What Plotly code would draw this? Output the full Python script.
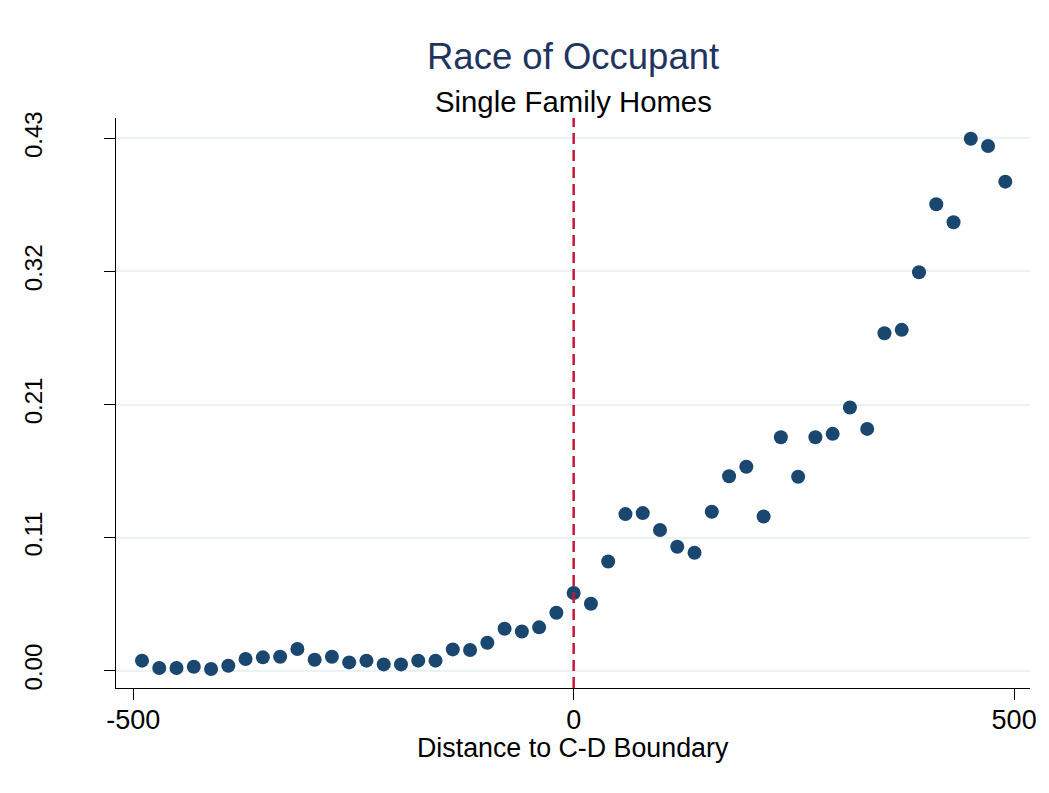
import plotly.graph_objects as go

# binned distance to the C-D boundary and share of black occupants
distance = [-490, -470.4, -450.8, -431.2, -411.6, -392, -372.4, -352.8, -333.2, -313.6,
            -294, -274.4, -254.8, -235.2, -215.6, -196, -176.4, -156.8, -137.2, -117.6,
            -98, -78.4, -58.8, -39.2, -19.6, 0, 19.6, 39.2, 58.8, 78.4,
            98, 117.6, 137.2, 156.8, 176.4, 196, 215.6, 235.2, 254.8, 274.4,
            294, 313.6, 333.2, 352.8, 372.4, 392, 411.6, 431.2, 450.8, 470.4, 490]
share = [0.0081, 0.0022, 0.0022, 0.0032, 0.0014, 0.0040, 0.0094, 0.0108, 0.0113, 0.0175,
         0.0089, 0.0113, 0.0067, 0.0081, 0.0051, 0.0051, 0.0081, 0.0081, 0.0172, 0.0167,
         0.0226, 0.0339, 0.0317, 0.0350, 0.0468, 0.0627, 0.0541, 0.0882, 0.1265, 0.1273,
         0.1136, 0.1001, 0.0953, 0.1284, 0.1571, 0.1647, 0.1246, 0.1886, 0.1566, 0.1886,
         0.1913, 0.2126, 0.1953, 0.2726, 0.2753, 0.3218, 0.3767, 0.3622, 0.4297, 0.4238, 0.3950]

y_ticks = [0, 0.1075, 0.215, 0.3225, 0.43]
y_labels = ["0.00", "0.11", "0.21", "0.32", "0.43"]
x_ticks = [-500, 0, 500]
x_labels = ["-500", "0", "500"]

FONT = "Liberation Sans, Arial, sans-serif"
GRID = "#eaf2f3"

fig = go.Figure()
fig.add_trace(go.Scatter(x=distance, y=share, mode="markers",
                         marker=dict(size=14, color="#1a476f"), showlegend=False))

# boundary line
fig.add_shape(type="line", xref="x", yref="paper", x0=0, x1=0, y0=0, y1=1,
              line=dict(color="#c8163c", width=2.5, dash="11px,6px"))

fig.add_annotation(text="Race of Occupant", xref="paper", yref="paper", x=0.5, y=1.1087,
                   showarrow=False, xanchor="center", yanchor="middle",
                   font=dict(family=FONT, size=36.5, color="#1f3461"))
fig.add_annotation(text="Single Family Homes", xref="paper", yref="paper", x=0.5, y=1.0298,
                   showarrow=False, xanchor="center", yanchor="middle",
                   font=dict(family=FONT, size=29.3, color="black"))
fig.add_annotation(text="Distance to C-D Boundary", xref="paper", yref="paper", x=0.5, y=-0.1047,
                   showarrow=False, xanchor="center", yanchor="middle",
                   font=dict(family=FONT, size=26.8, color="black"))

# page body has a margin, so margins are shifted to keep the plot area in place
fig.update_layout(
    width=1049, height=793,
    margin=dict(l=100, r=27, t=110, b=113),
    paper_bgcolor="white", plot_bgcolor="white",
    font=dict(family=FONT, color="black"),
)
fig.update_xaxes(range=[-519.5, 518], tickvals=x_ticks, ticktext=x_labels,
                 showgrid=False, zeroline=False, showline=True, linecolor="black", linewidth=1.2,
                 ticks="outside", ticklen=11, tickcolor="black", tickwidth=1.2,
                 tickfont=dict(family=FONT, size=27), ticklabelstandoff=-4)
fig.update_yaxes(range=[-0.01397, 0.4464], tickvals=y_ticks, ticktext=y_labels,
                 showgrid=True, gridcolor=GRID, gridwidth=2, zeroline=False,
                 showline=True, linecolor="black", linewidth=1.2,
                 ticks="outside", ticklen=11, tickcolor="black", tickwidth=1.2,
                 tickangle=-90, tickfont=dict(family=FONT, size=24), ticklabelstandoff=52)

fig.write_html("out.html")
